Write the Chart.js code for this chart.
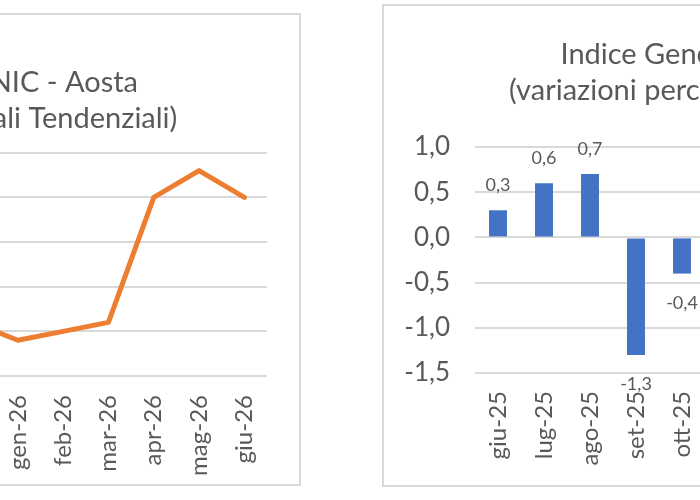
<!DOCTYPE html>
<html><head><meta charset="utf-8">
<script src="https://cdn.jsdelivr.net/npm/chart.js@4.4.1/dist/chart.umd.min.js"></script>
<style>
html,body{margin:0;padding:0;width:700px;height:500px;overflow:hidden;background:#fff;}
.box{position:absolute;border:2px solid #d9d9d9;box-sizing:border-box;background:#fff;}
#boxL{left:-347px;top:13px;width:648px;height:473px;}
#boxR{left:382px;top:4px;width:704px;height:483px;}
canvas{display:block;}
</style></head><body>
<div class="box" id="boxL"><canvas id="cL" width="644" height="469"></canvas></div>
<div class="box" id="boxR"><canvas id="cR" width="700" height="479"></canvas></div>
<script>
// ---- data ----
const lineAxisMonths = ['lug-25','ago-25','set-25','ott-25','nov-25','dic-25','gen-26','feb-26','mar-26','apr-26','mag-26','giu-26'];
const lineMonths = ['dic-25','gen-26','feb-26','mar-26','apr-26','mag-26','giu-26'];
const lineValues = [0.6, 0.4, 0.5, 0.6, 2.0, 2.3, 2.0];
const lineTitle = ['Indice Generale NIC - Aosta', '(variazioni percentuali Tendenziali)'];

const barMonths = ['giu-25','lug-25','ago-25','set-25','ott-25','nov-25','dic-25','gen-26','feb-26','mar-26','apr-26','mag-26','giu-26'];
const barValues = [0.3, 0.6, 0.7, -1.3, -0.4];
const barTitle = ['Indice Generale NIC - Aosta', '(variazioni percentuali congiunturali)'];

// ---- style ----
const GREY = '#595959';
const GRID = '#d9d9d9';
Chart.defaults.font.family = 'Lato';
Chart.defaults.color = GREY;
const fmt = v => v.toFixed(1).replace('.', ',');

const barLabels = {
  id: 'barLabels',
  afterDatasetsDraw(chart) {
    const ctx = chart.ctx;
    const meta = chart.getDatasetMeta(0);
    const data = chart.data.datasets[0].data;
    ctx.save();
    ctx.font = '18px Lato';
    ctx.fillStyle = GREY;
    ctx.textAlign = 'center';
    ctx.textBaseline = 'alphabetic';
    meta.data.forEach((bar, i) => {
      const v = data[i];
      if (v == null) return;
      ctx.fillText(fmt(v), bar.x, v >= 0 ? bar.y - 19 : bar.y + 35);
    });
    ctx.restore();
  }
};

// ---- left: line chart ----
new Chart(document.getElementById('cL'), {
  type: 'line',
  data: {
    labels: lineAxisMonths,
    datasets: [{
      data: lineMonths.map((m, i) => ({x: m, y: lineValues[i]})),
      borderColor: '#ED7D31',
      borderWidth: 5,
      borderCapStyle: 'round',
      borderJoinStyle: 'round',
      pointRadius: 0,
      tension: 0,
      fill: false
    }]
  },
  options: {
    responsive: false,
    animation: false,
    devicePixelRatio: 1,
    layout: {padding: {left: 0, right: 32, top: 0, bottom: 0}},
    plugins: {
      legend: {display: false},
      tooltip: {enabled: false},
      title: {
        display: true, text: lineTitle, color: GREY,
        font: {size: 29, weight: 'normal', lineHeight: 36/29},
        padding: {top: 50, bottom: 15.7}
      }
    },
    scales: {
      x: {
        offset: true,
        grid: {display: false},
        border: {display: false},
        ticks: {minRotation: 90, maxRotation: 90, autoSkip: false, padding: 11, font: {size: 24}, color: GREY},
        afterFit(s) { s.height = 108; s.paddingLeft = 0; s.paddingRight = 0; }
      },
      y: {
        min: 0, max: 2.5,
        grid: {color: GRID, lineWidth: 2, drawTicks: false},
        border: {display: false},
        ticks: {stepSize: 0.5, padding: 20, font: {size: 26}, color: GREY, callback: v => fmt(v)},
        afterFit(s) { s.width = 68.4; }
      }
    }
  }
});

// ---- right: bar chart ----
new Chart(document.getElementById('cR'), {
  type: 'bar',
  data: {
    labels: barMonths,
    datasets: [{
      data: barValues,
      backgroundColor: '#4472C4',
      categoryPercentage: 1,
      barPercentage: 0.39
    }]
  },
  options: {
    responsive: false,
    animation: false,
    devicePixelRatio: 1,
    layout: {padding: {left: 18, right: 11, top: 0, bottom: 0}},
    plugins: {
      legend: {display: false},
      tooltip: {enabled: false},
      title: {
        display: true, text: barTitle, color: GREY,
        font: {size: 29, weight: 'normal', lineHeight: 36/29},
        padding: {top: 31, bottom: 38}
      }
    },
    scales: {
      x: {
        grid: {display: false},
        border: {display: false},
        ticks: {minRotation: 90, maxRotation: 90, autoSkip: false, padding: 10, font: {size: 24}, color: GREY},
        afterFit(s) { s.height = 112; s.paddingLeft = 0; s.paddingRight = 0; }
      },
      y: {
        min: -1.5, max: 1.0,
        grid: {color: GRID, lineWidth: 2, drawTicks: false},
        border: {display: false},
        ticks: {stepSize: 0.5, padding: 25, font: {size: 26}, color: GREY, callback: v => fmt(v)},
        afterFit(s) { s.width = 73; }
      }
    }
  },
  plugins: [barLabels]
});
</script>
</body></html>
